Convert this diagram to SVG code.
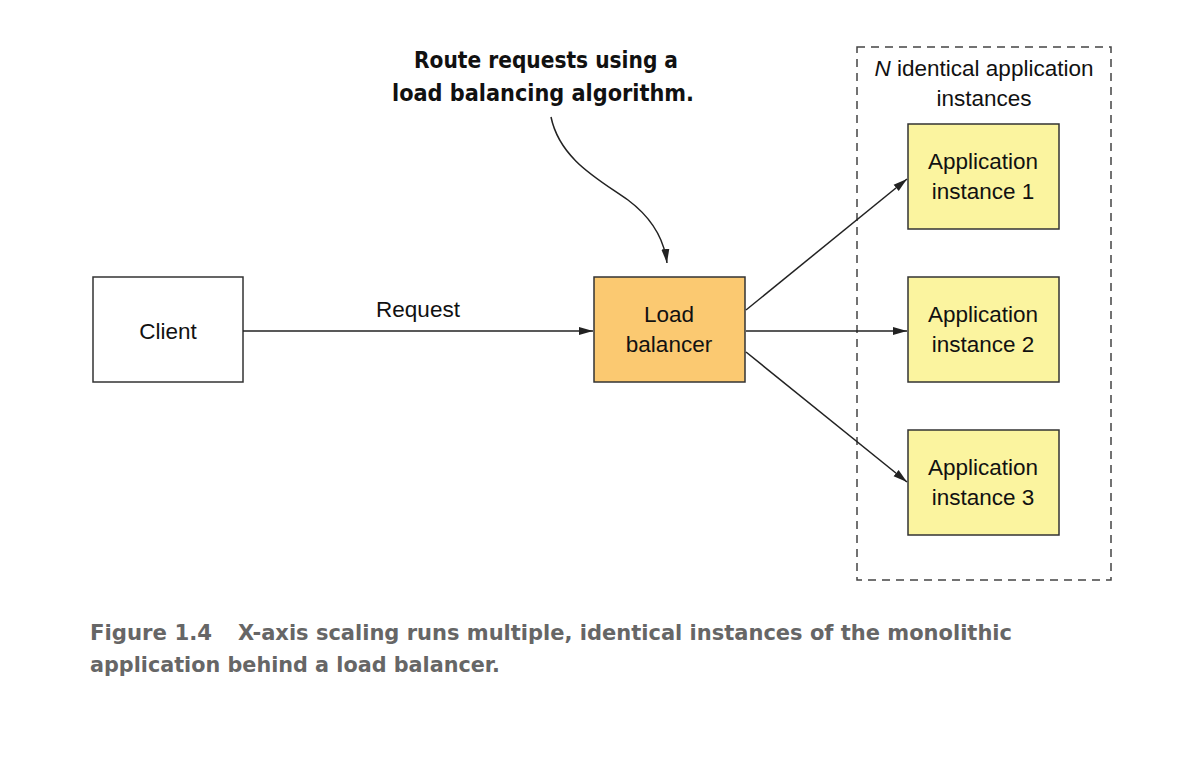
<svg xmlns="http://www.w3.org/2000/svg" width="1200" height="770" viewBox="0 0 1200 770">
<defs>
<style>
.box{stroke:#333;stroke-width:1.5}
.lbl{font-family:"Liberation Sans",Arial,sans-serif;font-size:22.5px;fill:#111;text-anchor:middle}
.conn{stroke:#222;stroke-width:1.5;fill:none}
.cap{font-family:"DejaVu Sans","Liberation Sans",sans-serif;font-weight:bold;font-size:21px;fill:#666}
.note{font-family:"DejaVu Sans Condensed","Liberation Sans Narrow","Liberation Sans",sans-serif;font-weight:bold;font-size:23px;fill:#111;text-anchor:middle}
</style>
<marker id="arr" viewBox="0 0 14 10" refX="14" refY="5" markerWidth="14" markerHeight="10" markerUnits="userSpaceOnUse" orient="auto"><path d="M0,1 L14,5 L0,9 Z" fill="#222"/></marker>
</defs>
<rect width="1200" height="770" fill="#fff"/>
<g id="group-n">
<rect x="857" y="47" width="254" height="533" fill="none" stroke="#444" stroke-width="1.5" stroke-dasharray="8,6"/>
<text class="lbl" x="984" y="76"><tspan font-style="italic">N</tspan> identical application</text>
<text class="lbl" x="984" y="106">instances</text>
</g>
<g id="note">
<text class="note" x="546" y="68" textLength="264" lengthAdjust="spacingAndGlyphs">Route requests using a</text>
<text class="note" x="543" y="101" textLength="302" lengthAdjust="spacingAndGlyphs">load balancing algorithm.</text>
</g>
<g id="client">
<rect class="box" x="93" y="277" width="150" height="105" fill="#fff"/>
<text class="lbl" x="168" y="339">Client</text>
</g>
<g id="lb">
<rect class="box" x="594" y="277" width="151" height="105" fill="#fbc971"/>
<text class="lbl" x="669" y="322">Load</text>
<text class="lbl" x="669" y="352">balancer</text>
</g>
<g id="app1">
<rect class="box" x="908" y="124" width="151" height="105" fill="#fbf49f"/>
<text class="lbl" x="983" y="169">Application</text>
<text class="lbl" x="983" y="199">instance 1</text>
</g>
<g id="app2">
<rect class="box" x="908" y="277" width="151" height="105" fill="#fbf49f"/>
<text class="lbl" x="983" y="322">Application</text>
<text class="lbl" x="983" y="352">instance 2</text>
</g>
<g id="app3">
<rect class="box" x="908" y="430" width="151" height="105" fill="#fbf49f"/>
<text class="lbl" x="983" y="475">Application</text>
<text class="lbl" x="983" y="505">instance 3</text>
</g>
<g id="connectors">
<line class="conn" x1="243" y1="331" x2="593" y2="331" marker-end="url(#arr)"/>
<text class="lbl" x="418" y="317">Request</text>
<line class="conn" x1="746" y1="310" x2="907" y2="179" marker-end="url(#arr)"/>
<line class="conn" x1="746" y1="331" x2="907" y2="331" marker-end="url(#arr)"/>
<line class="conn" x1="746" y1="352" x2="907" y2="482" marker-end="url(#arr)"/>
<path class="conn" d="M551,117 C560,160 600,180 628,200 C652,218 664,238 667,263" marker-end="url(#arr)"/>
</g>
<g id="caption">
<text class="cap" x="90" y="640" textLength="122" lengthAdjust="spacingAndGlyphs">Figure 1.4</text>
<text class="cap" x="238" y="640" textLength="774" lengthAdjust="spacingAndGlyphs">X-axis scaling runs multiple, identical instances of the monolithic</text>
<text class="cap" x="90" y="672" textLength="410" lengthAdjust="spacingAndGlyphs">application behind a load balancer.</text>
</g>
</svg>
